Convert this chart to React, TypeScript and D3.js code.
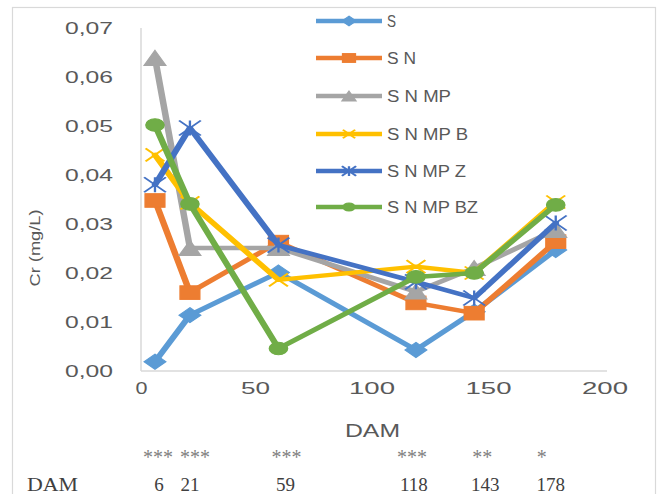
import React from 'react';
import * as d3 from 'd3';

// ---------- data ----------
const days = [6, 21, 59, 118, 143, 178];
const seriesNames = ['S', 'S N', 'S N MP', 'S N MP B', 'S N MP Z', 'S N MP BZ'];
const valS = [0.0019, 0.0114, 0.0201, 0.0043, 0.0121, 0.0247];
const valSN = [0.0348, 0.016, 0.0263, 0.0139, 0.0118, 0.0264];
const valSNMP = [0.0639, 0.0251, 0.0251, 0.0162, 0.021, 0.0288];
const valSNMPB = [0.0441, 0.0343, 0.0186, 0.0213, 0.02, 0.0345];
const valSNMPZ = [0.038, 0.0496, 0.0257, 0.0182, 0.0149, 0.0302];
const valSNMPBZ = [0.0502, 0.0341, 0.0046, 0.0192, 0.02, 0.0339];
const yTicks = [0, 0.01, 0.02, 0.03, 0.04, 0.05, 0.06, 0.07];
const xTicks = [0, 50, 100, 150, 200];
const starLabels = ['***', '***', '***', '***', '**', '*'];
const damLabels = ['6', '21', '59', '118', '143', '178'];

// ---------- layout / style ----------
const W = 657;
const H = 494;
const SX = 1.45; // horizontal stretch of the original picture
const colors = ['#5B9BD5', '#ED7D31', '#A5A5A5', '#FFC000', '#4472C4', '#70AD47'];
const markers = ['diamond', 'square', 'triangle', 'x', 'asterisk', 'circle'];
const legendTextW = [9, 29, 64, 81, 79, 91];
const starNudge = [3, 5, 8, -4, 8, -14];
const numNudge = [4, 0, 7, -2, 11, -5];

const seriesVals = [valS, valSN, valSNMP, valSNMPB, valSNMPZ, valSNMPBZ];

const xPix = d3.scaleLinear().domain([0, 200]).range([141, 607]);
const xs = d3.scaleLinear().domain([0, 200]).range([141 / SX, 607 / SX]);
const y = d3.scaleLinear().domain([0, 0.07]).range([371, 28]);
const fmt = (v: number) => d3.format('.2f')(v).replace('.', ',');

function Marker({ kind, color, k = 1 }: { kind: string; color: string; k?: number }) {
  if (kind === 'diamond') {
    const h = 7.5 * k;
    return <path d={`M0,${-h}L${h},0L0,${h}L${-h},0Z`} fill={color} stroke={color} strokeWidth={1} />;
  }
  if (kind === 'square') {
    const h = 6.8 * k;
    return <rect x={-h} y={-h} width={2 * h} height={2 * h} fill={color} stroke={color} strokeWidth={1} />;
  }
  if (kind === 'triangle') {
    const h = 7.5 * k;
    return <path d={`M0,${-h}L${h},${h}L${-h},${h}Z`} fill={color} stroke={color} strokeWidth={1} />;
  }
  if (kind === 'circle') {
    return <circle r={6.3 * k} fill={color} stroke={color} strokeWidth={1} />;
  }
  if (kind === 'x') {
    const h = 6.5 * k;
    return <path d={`M${-h},${-h}L${h},${h}M${-h},${h}L${h},${-h}`} stroke={color} strokeWidth={1.6} fill="none" />;
  }
  // asterisk
  const h = 7.5 * k;
  return (
    <path
      d={`M${-h},${-h}L${h},${h}M${-h},${h}L${h},${-h}M0,${-h}L0,${h}`}
      stroke={color}
      strokeWidth={1.6}
      fill="none"
    />
  );
}

export default function App() {
  const line = d3
    .line<number>()
    .x((_, i) => xs(days[i]))
    .y((d) => y(d));

  const legendY = [21, 58, 96, 134, 171, 207];
  const sans = "'Liberation Sans', Arial, sans-serif";
  const serif = "'Liberation Serif', 'Times New Roman', serif";
  const gray = '#595959';

  return (
    <svg
      width={W}
      height={H}
      style={{ position: 'absolute', left: 0, top: 0, background: '#fff' }}
    >
      <rect x={0} y={0} width={W} height={H} fill="#fff" />
      {/* chart border */}
      <rect x={12.5} y={7.5} width={643} height={520} fill="none" stroke="#D9D9D9" strokeWidth={1.2} />

      {/* axes lines */}
      <line x1={141} x2={141} y1={28} y2={371} stroke="#D9D9D9" strokeWidth={1.5} />
      <line x1={141} x2={607} y1={371} y2={371} stroke="#D9D9D9" strokeWidth={1.5} />

      {/* y tick labels */}
      {yTicks.map((t) => (
        <text
          key={'y' + t}
          x={113}
          y={y(t) + 6}
          textAnchor="end"
          fontFamily={sans}
          fontSize={17}
          fill={gray}
          textLength={48}
          lengthAdjust="spacingAndGlyphs"
        >
          {fmt(t)}
        </text>
      ))}

      {/* x tick labels */}
      {xTicks.map((t) => {
        const s = String(t);
        const w = 17 * s.length - 5;
        return (
          <text
            key={'x' + t}
            x={xPix(t) - (t === 0 ? -0.5 : 2) - w / 2}
            y={394}
            fontFamily={sans}
            fontSize={17}
            fill={gray}
            textLength={w}
            lengthAdjust="spacingAndGlyphs"
          >
            {s}
          </text>
        );
      })}

      {/* axis titles */}
      <text
        x={345}
        y={437}
        fontFamily={sans}
        fontSize={18}
        fill={gray}
        textLength={55}
        lengthAdjust="spacingAndGlyphs"
      >
        DAM
      </text>
      <text
        transform="translate(40,248) rotate(-90)"
        x={-38.5}
        y={0}
        fontFamily={sans}
        fontSize={15}
        fill={gray}
        textLength={77}
        lengthAdjust="spacingAndGlyphs"
      >
        Cr (mg/L)
      </text>

      {/* plot (stretched group) */}
      <g transform={`scale(${SX},1)`}>
        {seriesVals.map((vals, si) => (
          <g key={'s' + si}>
            <path
              d={line(vals) || ''}
              fill="none"
              stroke={colors[si]}
              strokeWidth={4.5}
              strokeLinejoin="round"
              strokeLinecap="round"
            />
            {vals.map((v, i) => (
              <g key={i} transform={`translate(${xs(days[i])},${y(v)})`}>
                <Marker kind={markers[si]} color={colors[si]} />
              </g>
            ))}
          </g>
        ))}

        {/* legend symbols */}
        {seriesNames.map((_, si) => (
          <g key={'l' + si}>
            <line
              x1={316 / SX}
              x2={382 / SX}
              y1={legendY[si]}
              y2={legendY[si]}
              stroke={colors[si]}
              strokeWidth={4.5}
              strokeLinecap="butt"
            />
            <g transform={`translate(${349 / SX},${legendY[si]})`}>
              <Marker kind={markers[si]} color={colors[si]} k={0.65} />
            </g>
          </g>
        ))}
      </g>

      {/* legend text */}
      {seriesNames.map((n, si) => (
        <text
          key={'lt' + si}
          x={387}
          y={legendY[si] + 6}
          fontFamily={sans}
          fontSize={16}
          fill={gray}
          textLength={legendTextW[si]}
          lengthAdjust="spacingAndGlyphs"
        >
          {n}
        </text>
      ))}

      {/* significance table below */}
      {starLabels.map((s, i) => (
        <text
          key={'st' + i}
          x={xPix(days[i]) + starNudge[i]}
          y={464}
          textAnchor="middle"
          fontFamily={serif}
          fontSize={20}
          fill="#7F7F7F"
        >
          {s}
        </text>
      ))}
      <text x={27} y={491} fontFamily={serif} fontSize={19} fill="#404040" textLength={51} lengthAdjust="spacingAndGlyphs">
        DAM
      </text>
      {damLabels.map((s, i) => (
        <text
          key={'dl' + i}
          x={xPix(days[i]) + numNudge[i]}
          y={491}
          textAnchor="middle"
          fontFamily={serif}
          fontSize={19}
          fill="#404040"
        >
          {s}
        </text>
      ))}
    </svg>
  );
}
